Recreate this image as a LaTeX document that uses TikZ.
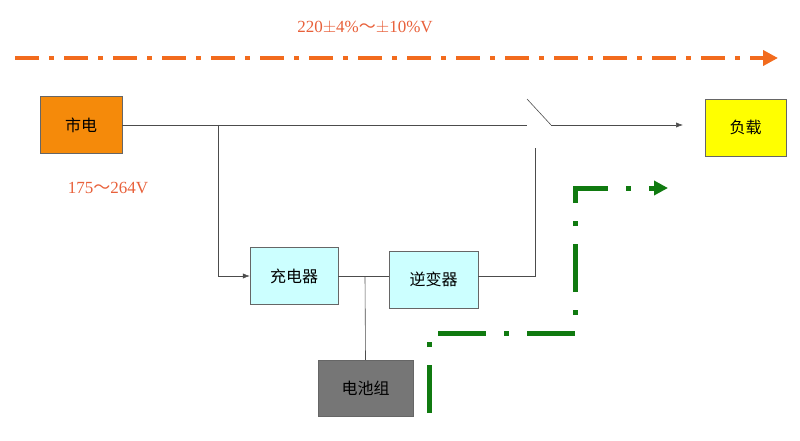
\documentclass[tikz,border=0pt]{standalone}
\usepackage{fontspec}
\setmainfont{Liberation Serif}
\newfontfamily\cjk{Noto Sans CJK SC}
\usetikzlibrary{arrows.meta}
\definecolor{mains}{HTML}{F58A0A}
\definecolor{flowor}{HTML}{F26B1D}
\definecolor{txtred}{HTML}{E8603A}
\definecolor{cyanbox}{HTML}{CCFFFF}
\definecolor{loadyel}{HTML}{FFFF00}
\definecolor{batgray}{HTML}{767676}
\definecolor{flowgreen}{HTML}{107A10}
\tikzset{
  box/.style={draw=black!60, minimum width=#1, inner sep=0pt, font=\cjk\fontsize{16}{16}\selectfont},
  wire/.style={draw=black!70, line width=0.6pt},
}
\begin{document}
\begin{tikzpicture}[x=1pt,y=-1pt]
      \useasboundingbox (0,0) rectangle (800,441);
      \node[box=82, minimum height=57, fill=mains] (mains) at (81,125) {市电};
      \node[box=81, minimum height=57, fill=loadyel] (load) at (745.5,127.5) {负载};
      \node[box=88, minimum height=57, fill=cyanbox] (charger) at (294,276) {充电器};
      \node[box=89, minimum height=57, fill=cyanbox] (inverter) at (433.5,279.5) {逆变器};
      \node[box=95, minimum height=56, fill=batgray] (battery) at (365.5,388) {电池组};
      \node[text=txtred, font=\fontsize{17}{17}\selectfont] (std) at (365,28) {220$\pm$4\%{\cjk ～}$\pm$10\%V};
      \node[text=txtred, font=\fontsize{17}{17}\selectfont] (range) at (108,188) {175{\cjk ～}264V};
      \coordinate (swa) at (527,125);
      \coordinate (swb) at (551,125);
      \coordinate (tap) at (218,125);
      \coordinate (dc) at (365,276);
      \coordinate (swc) at (535,148);
      \coordinate (loadin) at (683,125);
      % ac path
      \draw[wire] (mains.east) -- (swa);
      \draw[wire] (527,99) -- (swb);
      \draw[wire, -{Latex[length=7pt]}] (swb) -- (loadin);
      \draw[wire, -{Latex[length=7pt]}] (tap) |- (charger.west);
      \draw[wire] (charger.east |- dc) -- (inverter.west |- dc);
      \draw[wire] (dc) -- (battery.north);
      \draw[wire] (inverter.east |- 0,276) -| (swc);
      % flow arrows
      \draw[flowor, line width=4.5pt, dash pattern=on 24pt off 10pt on 5pt off 10pt, -{Triangle[length=15pt,width=15pt]}] (15,58) -- (778,58);
      \draw[flowgreen, line width=5pt, dash pattern=on 48pt off 18pt on 5pt off 18pt, -{Triangle[length=14pt,width=14pt]}]
            (429,413) -- (429,333) -- (575,333) -- (575,188) -- (668,188);
\end{tikzpicture}
\end{document}
